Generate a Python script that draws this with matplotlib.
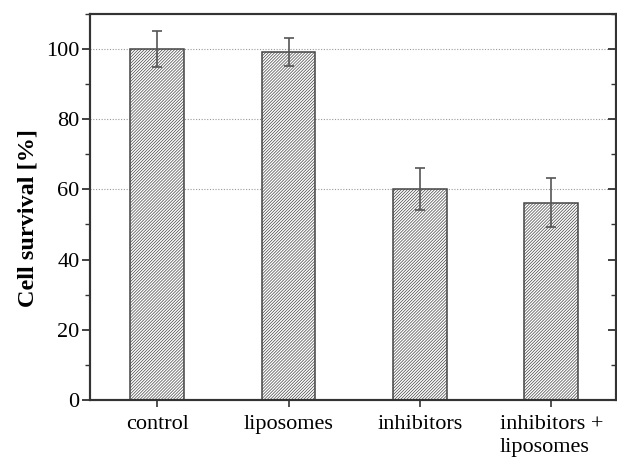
import matplotlib
matplotlib.use("Agg")
import matplotlib.pyplot as plt
from matplotlib.ticker import MultipleLocator, NullFormatter

categories = ["control", "liposomes", "inhibitors", "inhibitors +\nliposomes"]
survival = [100.0, 99.2, 60.0, 56.2]
errors = [5.0, 4.0, 6.0, 7.0]
grid_levels = [60, 80, 100]

plt.rcParams["font.family"] = ["Liberation Serif", "DejaVu Serif"]
plt.rcParams["hatch.linewidth"] = 0.5
plt.rcParams["hatch.color"] = "#777777"

fig = plt.figure(figsize=(6.17, 4.65), dpi=100)
ax = fig.add_axes([0.146, 0.14, 0.852, 0.83])

x = list(range(len(categories)))
for lvl in grid_levels:
    ax.axhline(lvl, color="#999999", linestyle=(0, (1, 1.5)), linewidth=0.8, zorder=0)

ax.bar(x, survival, width=0.41, color="white", edgecolor="#444444",
       linewidth=1.1, hatch="/" * 11, zorder=2)
ax.errorbar(x, survival, yerr=errors, fmt="none", ecolor="#555555",
            elinewidth=1.2, capsize=3.5, capthick=1.2, zorder=3)

ax.set_xlim(-0.51, 3.49)
ax.set_ylim(0, 110)
ax.set_xticks(x)
ax.set_xticklabels(categories, fontsize=16, linespacing=1.3)
for lab in ax.get_xticklabels():
    lab.set_multialignment("left")
ax.yaxis.set_major_locator(MultipleLocator(20))
ax.yaxis.set_minor_locator(MultipleLocator(10))
ax.tick_params(axis="y", which="major", labelsize=16, length=5.5, width=1.3,
               direction="out", color="#333333", pad=2)
ax.tick_params(axis="y", which="minor", length=3.5, width=1.0,
               direction="out", color="#333333")
ax.tick_params(axis="x", which="major", length=5, width=1.2, direction="out",
               color="#333333", pad=6)

# inward ticks mirrored on the right spine
axr = ax.twinx()
axr.set_ylim(ax.get_ylim())
axr.yaxis.set_major_locator(MultipleLocator(20))
axr.yaxis.set_minor_locator(MultipleLocator(10))
axr.yaxis.set_major_formatter(NullFormatter())
axr.tick_params(axis="y", which="major", length=5.5, width=1.3, direction="in",
                color="#333333")
axr.tick_params(axis="y", which="minor", length=3.5, width=1.0, direction="in",
                color="#333333")

for a in (ax, axr):
    for s in a.spines.values():
        s.set_linewidth(1.5)
        s.set_color("#333333")

ax.set_ylabel("Cell survival [%]", fontsize=17.5, fontweight="bold")
ax.yaxis.set_label_coords(-0.098, 0.47)

fig.savefig("out.png", dpi=100)
